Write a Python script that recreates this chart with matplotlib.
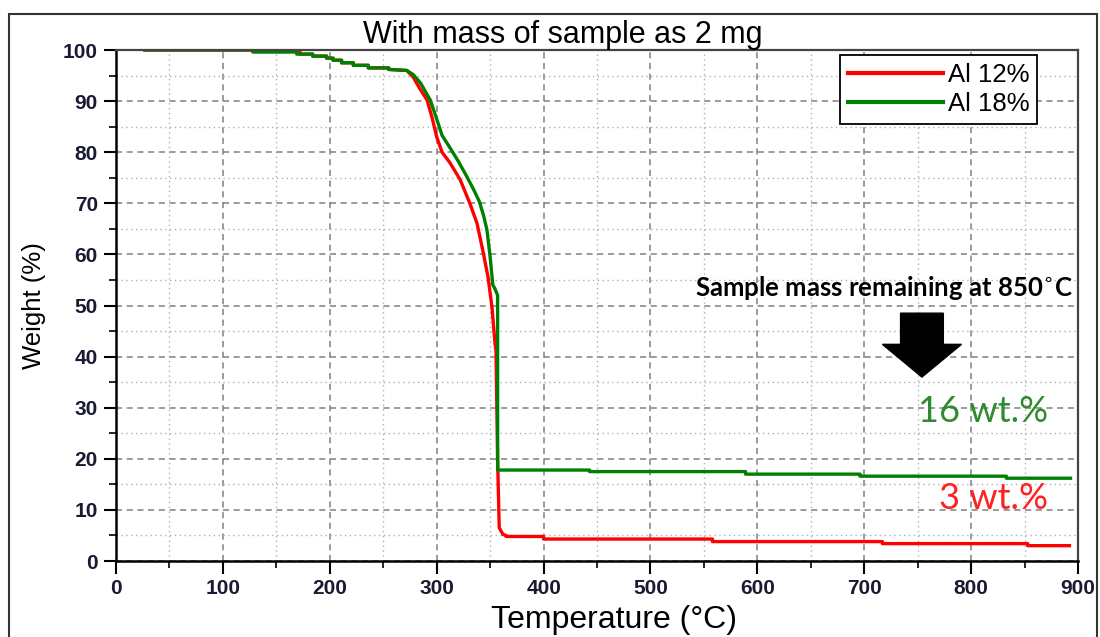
import matplotlib

matplotlib.use("Agg")
import matplotlib.pyplot as plt
from matplotlib.patches import Rectangle
from matplotlib.ticker import MultipleLocator

# temperature (C) / weight (%)
al12_temp = [27, 172, 172, 184, 184, 197, 197, 203, 203, 211, 211, 222, 222, 236, 236, 255, 255, 272,
             278, 284, 291, 296, 300, 305, 312.5, 322, 331, 337.7, 343, 348, 351.7, 354.5, 355.5, 357,
             358.5, 362, 365, 365, 400, 400, 558, 558, 717, 717, 853, 853, 892]
al12_weight = [100, 100, 99.2, 99.2, 98.8, 98.8, 98.4, 98.4, 98.0, 98.0, 97.5, 97.5, 97.0, 97.0, 96.5,
               96.5, 96.2, 96.0, 94.7, 92.5, 90.2, 86.5, 83, 80, 77.9, 74.6, 70, 66.1, 60.9, 55.6,
               49.7, 42.7, 41, 20, 6.5, 5.2, 5.0, 4.8, 4.8, 4.3, 4.3, 3.8, 3.8, 3.4, 3.4, 3.0, 3.0]

al18_temp = [27, 128, 128, 169, 169, 184, 184, 197, 197, 203, 203, 211, 211, 222, 222, 236, 236, 255,
             255, 272, 278, 285, 294, 300, 305, 312, 320, 328, 335, 340, 344, 347, 350, 352.5, 354, 356,
             357, 357, 443, 443, 589, 589, 696, 696, 833, 833, 893]
al18_weight = [100, 100, 99.6, 99.6, 99.2, 99.2, 98.8, 98.8, 98.4, 98.4, 98.0, 98.0, 97.5, 97.5, 97.0,
               97.0, 96.5, 96.5, 96.2, 96.0, 95.2, 93.5, 90.2, 86.5, 83.3, 81, 78.3, 75.3, 72.5, 70.3,
               67.5, 64.8, 59.5, 54, 53.5, 52.5, 52, 17.8, 17.8, 17.5, 17.5, 17.0, 17.0, 16.6, 16.6,
               16.2, 16.2]

x_ticks = list(range(0, 901, 100))
y_ticks = list(range(0, 101, 10))

arrow_x, arrow_top, arrow_tip = 754, 48.5, 36.0

fig = plt.figure(figsize=(11, 6.37), dpi=100)
ax = fig.add_axes([0.1055, 0.1193, 0.8745, 0.8022])

# outer frame around the whole figure
fig.patches.append(Rectangle((0.008, -0.1), 0.989, 1.078, transform=fig.transFigure,
                             fill=False, edgecolor="#333333", linewidth=1.5))

ax.plot(al12_temp, al12_weight, color="#ff0000", lw=2.4, label="Al 12%")
ax.plot(al18_temp, al18_weight, color="#008000", lw=2.4, label="Al 18%")

ax.set_xlim(0, 900)
ax.set_ylim(0, 100)
ax.set_xticks(x_ticks)
ax.set_yticks(y_ticks)
ax.xaxis.set_minor_locator(MultipleLocator(50))
ax.yaxis.set_minor_locator(MultipleLocator(5))

ax.grid(which="major", color="#808080", linestyle=(0, (4, 3)), linewidth=1.1)
ax.grid(which="minor", color="#b0b0b0", linestyle=(0, (1, 2.5)), linewidth=1.0)
ax.set_axisbelow(True)

ax.tick_params(which="major", direction="out", length=9, width=1.5, pad=4)
ax.tick_params(which="minor", direction="out", length=5, width=1.2)
ax.tick_params(axis="y", which="both", left=True, right=False)
ax.tick_params(axis="x", which="both", bottom=True, top=False)
for lab in ax.get_xticklabels() + ax.get_yticklabels():
    lab.set_fontfamily("Liberation Sans")
    lab.set_fontsize(15)
    lab.set_fontweight("bold")
    lab.set_color("#1a1a33")

for side in ("left", "bottom"):
    ax.spines[side].set_linewidth(1.8)
    ax.spines[side].set_color("black")
for side in ("top", "right"):
    ax.spines[side].set_linewidth(1.6)
    ax.spines[side].set_color("#444444")

ax.set_xlabel("Temperature (°C)", fontsize=23, family="Liberation Sans", labelpad=5, x=0.518)
ax.set_ylabel("Weight (%)", fontsize=18.5, family="Liberation Sans", labelpad=12)
ax.set_title("With mass of sample as 2 mg", fontsize=22, family="Liberation Sans", pad=4, x=0.464)

leg = ax.legend(loc="upper right", bbox_to_anchor=(0.9575, 0.99), fancybox=False, framealpha=1,
                edgecolor="black", prop={"family": "Liberation Sans", "size": 18.5},
                handlelength=3.7, handletextpad=0.2, borderpad=0.3, labelspacing=0.2,
                borderaxespad=0.0)
leg.get_frame().set_linewidth(1.3)
for line in leg.get_lines():
    line.set_linewidth(3)

ax.text(0.995, 53.5, "Sample mass remaining at 850$^{\\circ}$C", transform=ax.get_yaxis_transform(),
        ha="right", va="center", fontsize=18.5, fontweight="bold", family="Lato", color="black")
ax.arrow(arrow_x, arrow_top, 0, arrow_tip - arrow_top, width=40, head_width=74, head_length=6.4,
         length_includes_head=True, color="black")
ax.text(811, 29.3, "16 wt.%", ha="center", va="center", fontsize=26, family="Lato", color="#2e8b2e")
ax.text(821, 12.3, "3 wt.%", ha="center", va="center", fontsize=26, family="Lato", color="#ff2020")

fig.savefig("out.png", dpi=100)
